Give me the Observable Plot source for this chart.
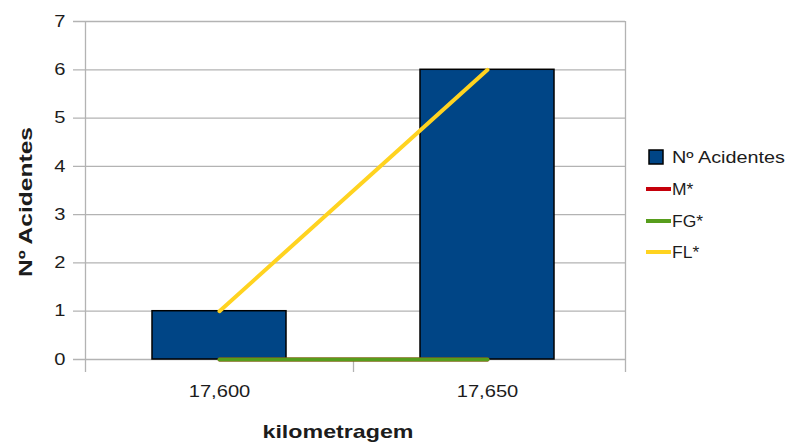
<!DOCTYPE html>
<html><head><meta charset="utf-8">
<script src="https://cdn.jsdelivr.net/npm/d3@7"></script>
<script src="https://cdn.jsdelivr.net/npm/@observablehq/plot@0.6"></script>
<style>
body{margin:0;background:#fff;}
#chart{position:relative;width:795px;height:448px;}
</style>
</head><body><div id="chart"></div>
<script>
const categories = ["17,600", "17,650"];
const acidentes = [1, 6];
const seriesM = [0, 0];
const seriesFG = [0, 0];
const seriesFL = [1, 6];
const yTicks = [0, 1, 2, 3, 4, 5, 6, 7];
const xTitle = "kilometragem";
const yTitle = "Nº Acidentes";
const legendLabels = ["Nº Acidentes", "M*", "FG*", "FL*"];

const barColor = "#004586";
const lineColors = ["#c5000b", "#579d1c", "#ffd320"];
const gridColor = "#b3b3b3";
const textColor = "#1c1c1c";

const bars = categories.map((k, i) => ({k, v: acidentes[i]}));
const lineSeries = [seriesM, seriesFG, seriesFL].map((vals, j) => ({
  color: lineColors[j],
  data: categories.map((k, i) => ({k, v: vals[i]}))
}));

const svg = Plot.plot({
  width: 795,
  height: 448,
  marginLeft: 85,
  marginRight: 174,
  marginTop: 21,
  marginBottom: 89,
  style: {fontFamily: "Liberation Sans, Arial, sans-serif", fontSize: "16.5px", color: textColor, background: "white", overflow: "visible"},
  x: {domain: categories, type: "band", paddingInner: 0.5, paddingOuter: 0.25, round: false, tickSize: 0, tickPadding: 26, label: null},
  y: {domain: [0, 7], ticks: yTicks, tickFormat: d => String(d), tickSize: 0, tickPadding: 20, label: null},
  marks: [
    Plot.ruleY(yTicks, {stroke: gridColor, strokeWidth: 1.3, insetLeft: -12, insetRight: -4}),
    Plot.ruleX([categories[0]], {dx: -134, y1: 7, y2: 0, insetBottom: -13, stroke: gridColor, strokeWidth: 1.3}),
    Plot.ruleX([categories[1]], {dx: 138, y1: 7, y2: 0, insetBottom: -13, stroke: gridColor, strokeWidth: 1.3}),
    Plot.ruleX([categories[0]], {dx: 134, y1: 0, y2: 0, insetBottom: -13, stroke: gridColor, strokeWidth: 1.3}),
    Plot.barY(bars, {x: "k", y: "v", fill: barColor, stroke: "#000", strokeWidth: 1.5}),
    ...lineSeries.map(s => Plot.line(s.data, {x: "k", y: "v", stroke: s.color, strokeWidth: 4}))
  ]
});
document.getElementById("chart").appendChild(svg);

const root = d3.select(svg);
// widen axis tick labels like the reference rendering
root.selectAll("g[aria-label*='axis'] text").each(function() {
  const w = this.getComputedTextLength();
  this.setAttribute("textLength", w * 1.22);
  this.setAttribute("lengthAdjust", "spacingAndGlyphs");
});

// axis titles
root.append("text")
  .attr("x", 338).attr("y", 438)
  .attr("text-anchor", "middle")
  .attr("font-family", "Liberation Sans, Arial, sans-serif")
  .attr("font-weight", "bold").attr("font-size", 19)
  .attr("fill", textColor)
  .attr("textLength", 151).attr("lengthAdjust", "spacingAndGlyphs")
  .text(xTitle);

root.append("text")
  .attr("transform", "translate(32,202) rotate(-90)")
  .attr("text-anchor", "middle")
  .attr("font-family", "Liberation Sans, Arial, sans-serif")
  .attr("font-weight", "bold").attr("font-size", 19)
  .attr("fill", textColor)
  .attr("textLength", 150).attr("lengthAdjust", "spacingAndGlyphs")
  .text(yTitle);

// legend
const lg = root.append("g").attr("font-family", "Liberation Sans, Arial, sans-serif").attr("font-size", 16.5).attr("fill", textColor).attr("text-anchor", "start");
const ly = [157, 189, 221, 252];
lg.append("rect").attr("x", 649).attr("y", ly[0] - 7).attr("width", 14).attr("height", 14)
  .attr("fill", barColor).attr("stroke", "#000").attr("stroke-width", 1.5);
lineColors.forEach((c, j) => {
  lg.append("line").attr("x1", 646).attr("x2", 671).attr("y1", ly[j + 1]).attr("y2", ly[j + 1])
    .attr("stroke", c).attr("stroke-width", 4);
});
legendLabels.forEach((t, j) => {
  const el = lg.append("text").attr("x", 672).attr("y", ly[j] + 6).attr("text-anchor", "start").text(t);
  const w = el.node().getComputedTextLength();
  el.attr("textLength", w * (j === 0 ? 1.2 : 1.06)).attr("lengthAdjust", "spacingAndGlyphs");
});
</script>
</body></html>
